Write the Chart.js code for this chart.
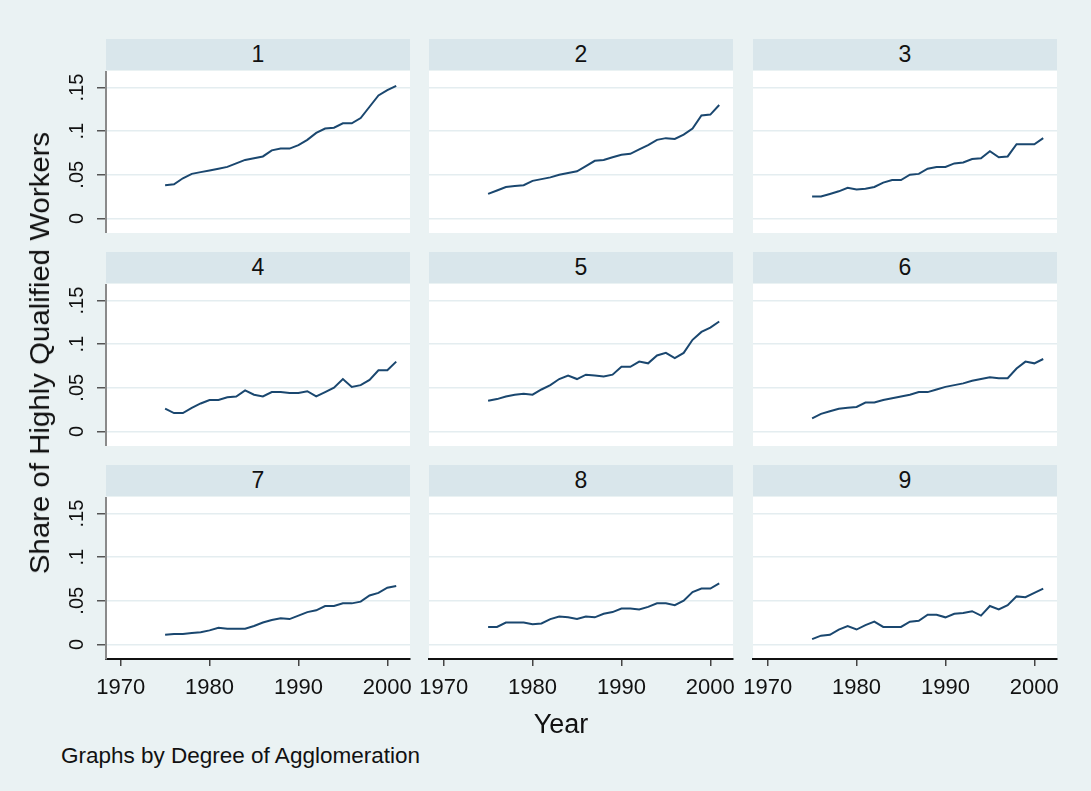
<!DOCTYPE html>
<html>
<head>
<meta charset="utf-8">
<script src="https://cdn.jsdelivr.net/npm/chart.js@4"></script>
<style>
  body { margin: 0; background: #eaf2f3; font-family: "Liberation Sans", Arial, sans-serif; }
  #wrap { position: relative; width: 1091px; height: 791px; overflow: hidden; }
  .strip { position: absolute; background: #d9e6eb; color: #111; font-size: 23px; text-align: center; }
  .box { position: absolute; }
  .lbl { position: absolute; color: #111; white-space: nowrap; }
</style>
</head>
<body>
<div id="wrap"></div>
<script>
// data
const years = [1975, 1976, 1977, 1978, 1979, 1980, 1981, 1982, 1983, 1984, 1985, 1986, 1987, 1988,
               1989, 1990, 1991, 1992, 1993, 1994, 1995, 1996, 1997, 1998, 1999, 2000, 2001];
const panelNames = ['1', '2', '3', '4', '5', '6', '7', '8', '9'];

const share1 = [0.038,0.039,0.046,0.051,0.053,0.055,0.057,0.059,0.063,0.067,0.069,0.071,0.078,0.080,0.080,0.084,0.090,0.098,0.103,0.104,0.109,0.109,0.115,0.128,0.141,0.147,0.152];
const share2 = [0.028,0.032,0.036,0.037,0.038,0.043,0.045,0.047,0.050,0.052,0.054,0.060,0.066,0.067,0.070,0.073,0.074,0.079,0.084,0.090,0.092,0.091,0.096,0.103,0.118,0.119,0.130];
const share3 = [0.025,0.025,0.028,0.031,0.035,0.033,0.034,0.036,0.041,0.044,0.044,0.050,0.051,0.057,0.059,0.059,0.063,0.064,0.068,0.069,0.077,0.070,0.071,0.085,0.085,0.085,0.092];
const share4 = [0.026,0.021,0.021,0.027,0.032,0.036,0.036,0.039,0.040,0.047,0.042,0.040,0.045,0.045,0.044,0.044,0.046,0.040,0.045,0.050,0.060,0.051,0.053,0.059,0.070,0.070,0.080];
const share5 = [0.035,0.037,0.040,0.042,0.043,0.042,0.048,0.053,0.060,0.064,0.060,0.065,0.064,0.063,0.065,0.074,0.074,0.080,0.078,0.087,0.090,0.084,0.090,0.105,0.114,0.119,0.126];
const share6 = [0.015,0.020,0.023,0.026,0.027,0.028,0.033,0.033,0.036,0.038,0.040,0.042,0.045,0.045,0.048,0.051,0.053,0.055,0.058,0.060,0.062,0.061,0.061,0.072,0.080,0.078,0.083];
const share7 = [0.011,0.012,0.012,0.013,0.014,0.016,0.019,0.018,0.018,0.018,0.021,0.025,0.028,0.030,0.029,0.033,0.037,0.039,0.044,0.044,0.047,0.047,0.049,0.056,0.059,0.065,0.067];
const share8 = [0.020,0.020,0.025,0.025,0.025,0.023,0.024,0.029,0.032,0.031,0.029,0.032,0.031,0.035,0.037,0.041,0.041,0.040,0.043,0.047,0.047,0.045,0.050,0.060,0.064,0.064,0.070];
const share9 = [0.006,0.010,0.011,0.017,0.021,0.017,0.022,0.026,0.020,0.020,0.020,0.026,0.027,0.034,0.034,0.031,0.035,0.036,0.038,0.033,0.044,0.040,0.045,0.055,0.054,0.059,0.064];
const allShares = [share1, share2, share3, share4, share5, share6, share7, share8, share9];

const xTicks = [1970, 1980, 1990, 2000];
const yTicks = [0, 0.05, 0.1, 0.15];
const yTickLabels = ['0', '.05', '.1', '.15'];

// layout (px)
const colLeft = [106, 429, 753];
const rowTop = [39, 252, 465];
const plotW = 304, plotH = 162, stripH = 31;
const padL = 60, padR = 20, xAxisH = 50;
const FONT = '"Liberation Sans", Arial, sans-serif';
const lineColor = '#1a476f';

const wrap = document.getElementById('wrap');

// white plot region
const plotBg = {
  id: 'plotBg',
  beforeDraw(chart) {
    const a = chart.chartArea, ctx = chart.ctx;
    ctx.save();
    ctx.fillStyle = '#ffffff';
    ctx.fillRect(a.left, a.top, a.right - a.left, a.bottom - a.top);
    ctx.restore();
  }
};

// vertical y tick labels, Stata style
const yLabels = {
  id: 'yLabels',
  afterDraw(chart, args, opts) {
    if (!opts.show) return;
    const s = chart.scales.y, ctx = chart.ctx;
    ctx.save();
    ctx.font = '20px ' + FONT;
    ctx.fillStyle = '#111';
    ctx.textAlign = 'center';
    ctx.textBaseline = 'alphabetic';
    s.ticks.forEach(t => {
      const y = s.getPixelForValue(t.value);
      ctx.save();
      ctx.translate(s.right - 23, y);
      ctx.rotate(-Math.PI / 2);
      ctx.fillText(yTickLabels[yTicks.indexOf(t.value)], 0, 0);
      ctx.restore();
    });
    ctx.restore();
  }
};

allShares.forEach((vals, i) => {
  const r = Math.floor(i / 3), c = i % 3;
  const top = rowTop[r] + stripH + 1;
  const bottomRow = r === 2;

  const strip = document.createElement('div');
  strip.className = 'strip';
  strip.style.left = colLeft[c] + 'px';
  strip.style.top = rowTop[r] + 'px';
  strip.style.width = plotW + 'px';
  strip.style.height = stripH + 'px';
  strip.style.lineHeight = stripH + 'px';
  strip.textContent = panelNames[i];
  wrap.appendChild(strip);

  const box = document.createElement('div');
  box.className = 'box';
  const w = plotW + padL + padR;
  const h = plotH + (bottomRow ? xAxisH : 0);
  box.style.left = (colLeft[c] - padL) + 'px';
  box.style.top = top + 'px';
  const cv = document.createElement('canvas');
  cv.width = w; cv.height = h;
  cv.style.width = w + 'px'; cv.style.height = h + 'px';
  box.appendChild(cv);
  wrap.appendChild(box);

  new Chart(cv, {
    type: 'line',
    data: {
      datasets: [{
        data: years.map((y, k) => ({ x: y, y: vals[k] })),
        borderColor: lineColor,
        borderWidth: 2,
        pointRadius: 0,
        tension: 0,
        fill: false
      }]
    },
    options: {
      responsive: false,
      animation: false,
      devicePixelRatio: 1,
      layout: { padding: { left: c === 0 ? 0 : padL, right: padR, top: 0, bottom: 0 } },
      plugins: { legend: { display: false }, tooltip: { enabled: false }, yLabels: { show: c === 0 } },
      scales: {
        x: {
          type: 'linear',
          min: 1968.35,
          max: 2002.55,
          display: bottomRow,
          afterBuildTicks: s => { s.ticks = xTicks.map(v => ({ value: v })); },
          afterFit: s => { s.height = bottomRow ? xAxisH : 0; },
          grid: { display: true, drawOnChartArea: false, drawTicks: true, tickLength: 7, tickColor: '#444', lineWidth: 1.5 },
          border: { display: true, color: '#111', width: 2 },
          ticks: { font: { size: 22, family: FONT }, color: '#111', padding: 9, maxRotation: 0, autoSkip: false,
                   callback: v => String(v) }
        },
        y: {
          min: -0.0168,
          max: 0.169,
          afterBuildTicks: s => { s.ticks = yTicks.map(v => ({ value: v })); },
          afterFit: s => { s.width = c === 0 ? padL : 0; },
          ticks: { display: false },
          grid: { color: '#e4edf0', lineWidth: 1.5, drawTicks: c === 0, tickLength: 9, tickColor: '#555' },
          border: { display: c === 0, color: '#8a8a8a', width: 2 }
        }
      }
    },
    plugins: [plotBg, yLabels]
  });
});

// axis titles and note
const yTitle = document.createElement('div');
yTitle.className = 'lbl';
yTitle.textContent = 'Share of Highly Qualified Workers';
yTitle.style.fontSize = '28px';
yTitle.style.left = '40px';
yTitle.style.top = '353px';
yTitle.style.transform = 'translate(-50%, -50%) rotate(-90deg) scaleX(1.05)';
wrap.appendChild(yTitle);

const xTitle = document.createElement('div');
xTitle.className = 'lbl';
xTitle.textContent = 'Year';
xTitle.style.fontSize = '27px';
xTitle.style.left = '561px';
xTitle.style.top = '724px';
xTitle.style.transform = 'translate(-50%, -50%)';
wrap.appendChild(xTitle);

const note = document.createElement('div');
note.className = 'lbl';
note.textContent = 'Graphs by Degree of Agglomeration';
note.style.fontSize = '22.5px';
note.style.left = '61px';
note.style.top = '756px';
note.style.transform = 'translateY(-50%)';
wrap.appendChild(note);
</script>
</body>
</html>
